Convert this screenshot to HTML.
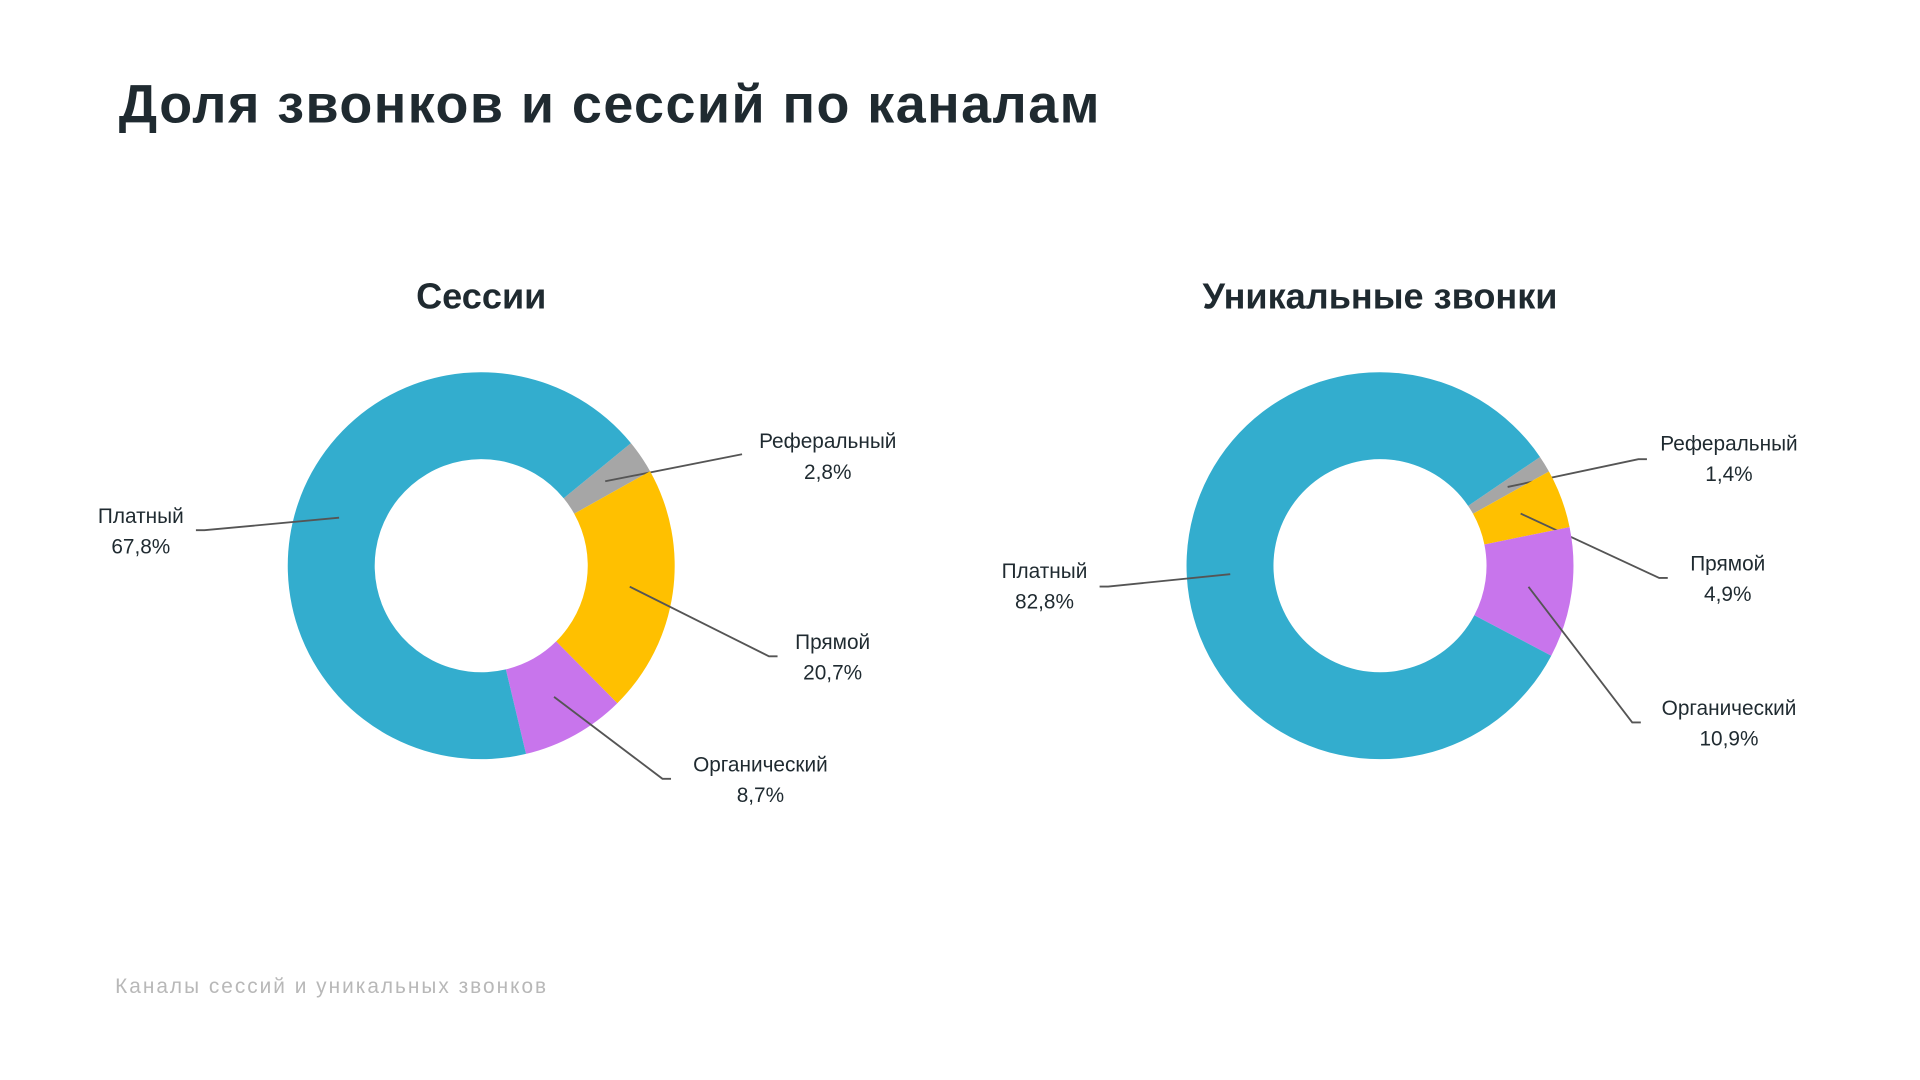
<!DOCTYPE html>
<html><head><meta charset="utf-8"><style>
html,body{margin:0;padding:0;background:#fff;width:1920px;height:1080px;overflow:hidden}
svg text{font-family:"Liberation Sans","DejaVu Sans",sans-serif}
</style></head><body>
<svg id="c" width="1920" height="1080" viewBox="0 0 1568 882">
<text x="97" y="100" font-size="44" font-weight="bold" fill="#1f2a30" letter-spacing="1.2">Доля звонков и сессий по каналам</text>
<text x="393" y="252" font-size="29.5" font-weight="bold" fill="#1f2a30" text-anchor="middle">Сессии</text>
<text x="1127" y="252" font-size="29.5" font-weight="bold" fill="#1f2a30" text-anchor="middle">Уникальные звонки</text>
<text x="94" y="811" font-size="17" fill="#b8b8b8" letter-spacing="1.65">Каналы сессий и уникальных звонков</text>
</svg>
<script>
const categories = ["Реферальный","Прямой","Органический","Платный"];
const sessionsValues = [2.8, 20.7, 8.7, 67.8];
const callsValues = [1.4, 4.9, 10.9, 82.8];
const sessionsLabels = ["2,8%","20,7%","8,7%","67,8%"];
const callsLabels = ["1,4%","4,9%","10,9%","82,8%"];
const colors = ["#a6a6a6","#ffc000","#c875ec","#33adce"];

const svg = document.getElementById('c');
const NS = 'http://www.w3.org/2000/svg';
function mk(t, a){const e=document.createElementNS(NS,t);for(const k in a)e.setAttribute(k,a[k]);svg.appendChild(e);return e;}
function pt(cx,cy,r,deg){const a=deg*Math.PI/180;return [cx+r*Math.sin(a),cy-r*Math.cos(a)];}

function donut(cfg){
  const total=cfg.values.reduce((s,v)=>s+v,0);
  let ang=cfg.start;
  cfg.values.forEach((v,i)=>{
    const sweep=v/total*360, a0=ang, a1=ang+sweep;
    const [x0,y0]=pt(cfg.cx,cfg.cy,cfg.ro,a0),[x1,y1]=pt(cfg.cx,cfg.cy,cfg.ro,a1);
    const [x2,y2]=pt(cfg.cx,cfg.cy,cfg.ri,a1),[x3,y3]=pt(cfg.cx,cfg.cy,cfg.ri,a0);
    const lg=sweep>180?1:0;
    const p=mk('path',{d:`M${x0},${y0}A${cfg.ro},${cfg.ro} 0 ${lg} 1 ${x1},${y1}L${x2},${y2}A${cfg.ri},${cfg.ri} 0 ${lg} 0 ${x3},${y3}Z`,fill:colors[i]});
    
    
    const mid=a0+sweep/2;
    const [ax,ay]=pt(cfg.cx,cfg.cy,(cfg.ro+cfg.ri)/2,mid);
    const L=cfg.layout[i];
    const ln=mk('polyline',{points:`${ax},${ay} ${L.ex},${L.ey} ${L.ex+L.dx},${L.ey}`,fill:'none',stroke:'#555',"stroke-width":1.5});
    
    
    const t1=mk('text',{x:L.lx,y:L.ly,"font-size":17,fill:'#1f2a30',"text-anchor":'middle'});
    t1.textContent=categories[i];
    
    
    const t2=mk('text',{x:L.lx,y:L.ly+25,"font-size":17,fill:'#1f2a30',"text-anchor":'middle'});
    t2.textContent=cfg.labels[i];
    
    
    ang=a1;
  });
}
donut({prefix:'sessions',cx:393,cy:462,ro:158,ri:87,start:50.7,values:sessionsValues,labels:sessionsLabels,
  layout:[{ex:606,ey:371,dx:0,lx:676,ly:366},{ex:628,ey:536,dx:7,lx:680,ly:530},{ex:541,ey:636,dx:7,lx:621,ly:630},{ex:167,ey:433,dx:-7,lx:115,ly:427}]});
donut({prefix:'calls',cx:1127,cy:462,ro:158,ri:87,start:55.8,values:callsValues,labels:callsLabels,
  layout:[{ex:1338,ey:375,dx:7,lx:1412,ly:368},{ex:1355,ey:472,dx:7,lx:1411,ly:466},{ex:1333,ey:590,dx:7,lx:1412,ly:584},{ex:905,ey:479,dx:-7,lx:853,ly:472}]});
</script>
</body></html>
